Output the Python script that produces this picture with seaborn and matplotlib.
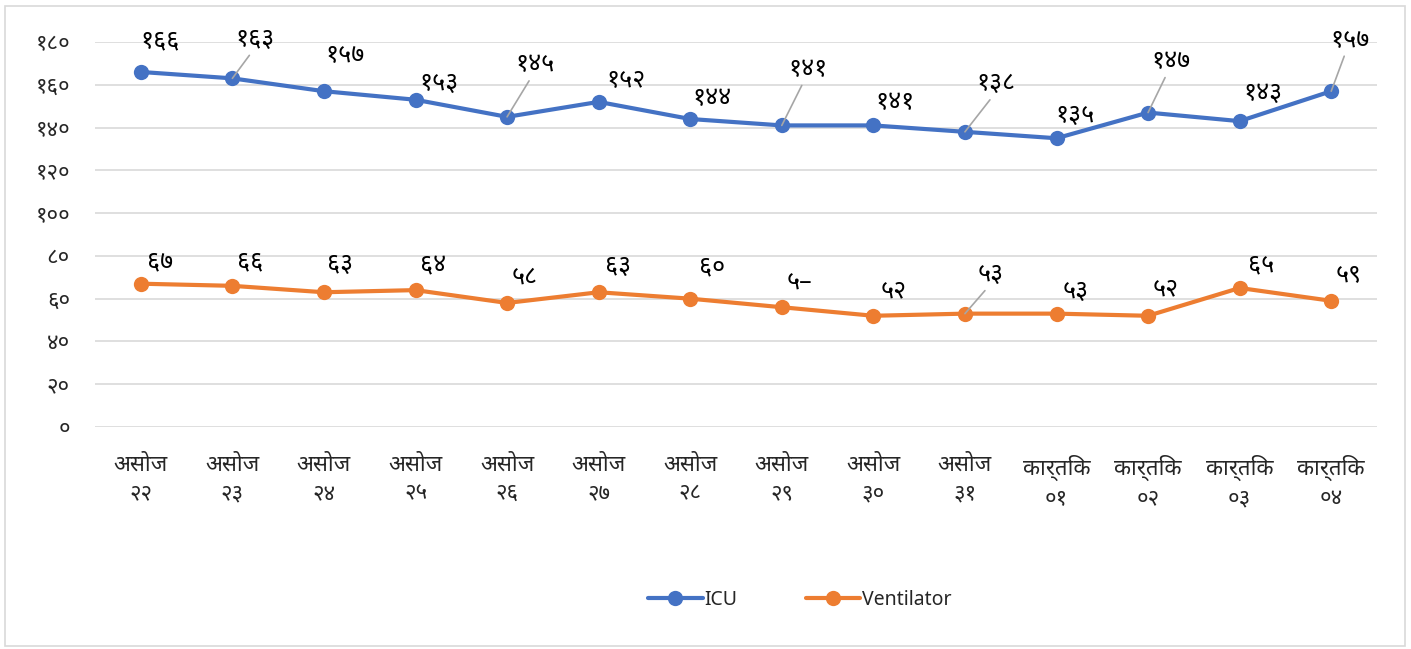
import numpy as np
import pandas as pd
import matplotlib
matplotlib.use("Agg")
import matplotlib.pyplot as plt
from matplotlib import font_manager
from matplotlib.ft2font import FT2Font
import seaborn as sns

months = ["असोज"] * 10 + ["कार्तिक"] * 4
days = ["२२", "२३", "२४", "२५", "२६", "२७", "२८", "२९", "३०", "३१", "०१", "०२", "०३", "०४"]
icu = [166, 163, 157, 153, 145, 152, 144, 141, 141, 138, 135, 147, 143, 157]
ventilator = [67, 66, 63, 64, 58, 63, 60, 56, 52, 53, 53, 52, 65, 59]
icu_labels = ["१६६", "१६३", "१५७", "१५३", "१४५", "१५२", "१४४", "१४१", "१४१", "१३८", "१३५", "१४७", "१४३", "१५७"]
vent_labels = ["६७", "६६", "६३", "६४", "५८", "६३", "६०", "५–", "५२", "५३", "५३", "५२", "६५", "५९"]
y_ticks = [0, 20, 40, 60, 80, 100, 120, 140, 160, 180]
y_tick_labels = ["०", "२०", "४०", "६०", "८०", "१००", "१२०", "१४०", "१६०", "१८०"]

# data label offsets in pixels (dx, dy) and whether a leader line is drawn
icu_off = [(19, 31), (23, 39), (21, 36), (23, 16), (28, 52), (27, 21), (22, 21), (26, 56),
           (22, 23), (31, 48), (19, 23), (23, 51), (23, 28), (19, 51)]
icu_lead = [False, True, False, False, True, False, False, True, False, True, False, True, False, True]
vent_off = [(19, 22), (18, 24), (16, 28), (18, 24), (18, 26), (19, 26), (22, 32), (18, 24),
            (20, 25), (26, 39), (19, 22), (18, 27), (21, 23), (17, 26)]
vent_lead = [False] * 9 + [True] + [False] * 4


def pick_deva():
    found = []
    for f in font_manager.fontManager.ttflist:
        try:
            cmap = FT2Font(f.fname).get_charmap()
        except Exception:
            continue
        if 0x0905 in cmap and 0x0967 in cmap:
            found.append(f.name)
    for pref in ["Noto Sans Devanagari", "Lohit Devanagari", "FreeSans", "FreeSerif"]:
        if pref in found:
            return pref
    return found[0] if found else None


deva = pick_deva()
sns.set_style("white")
plt.rcParams["font.family"] = ["Noto Sans"] + ([deva] if deva else []) + ["DejaVu Sans"]

df = pd.DataFrame({"x": range(len(icu)), "ICU": icu, "Ventilator": ventilator})
long = df.melt(id_vars="x", var_name="series", value_name="value")

fig = plt.figure(figsize=(14.11, 6.49), dpi=100)
ax = fig.add_axes([95 / 1411, 1 - 427 / 649, (1377 - 95) / 1411, (427 - 42) / 649])

palette = {"ICU": "#4472C4", "Ventilator": "#ED7D31"}
sns.lineplot(data=long, x="x", y="value", hue="series", palette=palette, marker="o",
             markersize=11, linewidth=3.0, markeredgewidth=0, ax=ax, legend=True)

ax.set_xlim(-0.5, len(icu) - 0.5)
ax.set_ylim(0, 180)
ax.set_yticks(y_ticks)
ax.set_yticklabels(y_tick_labels, fontsize=16)
ax.set_xticks(range(len(icu)))
ax.set_xticklabels([m + "\n" + d for m, d in zip(months, days)], fontsize=16, linespacing=1.45)
ax.grid(axis="y", color="#D9D9D9", linewidth=1.2)
ax.set_axisbelow(True)
for s in ax.spines.values():
    s.set_visible(False)
ax.tick_params(axis="both", length=0)
ax.tick_params(axis="y", pad=18)
ax.tick_params(axis="x", pad=20)
ax.set_xlabel("")
ax.set_ylabel("")

px = 72 / 100
for vals, labs, offs, leads in [(icu, icu_labels, icu_off, icu_lead), (ventilator, vent_labels, vent_off, vent_lead)]:
    for i, (v, t) in enumerate(zip(vals, labs)):
        dx, dy = offs[i]
        ax.annotate(t, (i, v), xytext=(dx * px, dy * px), textcoords="offset points",
                    ha="center", va="center", fontsize=18, color="black")
        if leads[i]:
            ax.annotate("", (i, v), xytext=((dx - 6) * px, (dy - 16) * px), textcoords="offset points",
                        arrowprops=dict(arrowstyle="-", color="#A6A6A6", lw=1.2, shrinkA=0, shrinkB=0))

handles, labels = ax.get_legend_handles_labels()
ax.legend(handles, labels, loc="center", bbox_to_anchor=(800 / 1411, 1 - 600 / 649),
          bbox_transform=fig.transFigure, ncol=2, frameon=False, fontsize=14,
          handlelength=2.8, columnspacing=3.5, handletextpad=0.1)

fig.patches.append(plt.Rectangle((5 / 1411, 3 / 649), 1400 / 1411, 640 / 649, transform=fig.transFigure,
                                 fill=False, edgecolor="#D9D9D9", linewidth=1.2))
fig.savefig("out.png", dpi=100)
